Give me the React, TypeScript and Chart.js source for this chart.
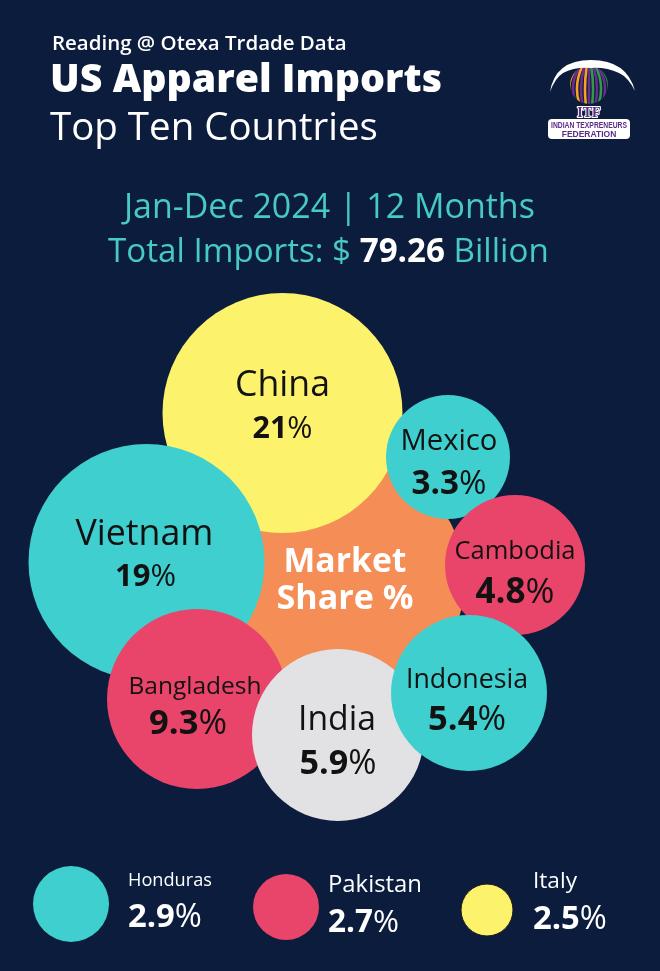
import React, { useEffect, useRef } from "react";
import { Chart, registerables } from "chart.js";

Chart.register(...registerables);

const W = 660;
const H = 971;

// ---------- data ----------
const sourceLabel = "Reading @ Otexa Trdade Data";
const titleLabel = "US Apparel Imports";
const subtitleLabel = "Top Ten Countries";
const periodLabel = "Jan-Dec 2024 | 12 Months";
const totalImportsBn = "79.26";
const hubLines = ["Market", "Share %"];

const countries = ["China", "Vietnam", "Bangladesh", "India", "Indonesia", "Cambodia", "Mexico", "Honduras", "Pakistan", "Italy"];
const shares = [21, 19, 9.3, 5.9, 5.4, 4.8, 3.3, 2.9, 2.7, 2.5];

// ---------- layout (kept apart from the data) ----------
const bubbleX = [282.5, 146.5, 197, 338, 469, 515, 448, 71, 286, 487];
const bubbleY = [413, 562, 699, 735, 693, 565, 457, 904, 907, 910];
const bubbleR = [120, 118, 90, 86, 78, 70, 62, 38, 33, 26];
const hubPos = { x: 345, y: 580, r: 120 };
// cluster draw order (back to front), the three remaining countries form the bottom row
const clusterOrder = [0, 1, 6, 5, 2, 3, 4];
const bottomOrder = [7, 8, 9];

const NAVY = "#0c1c3d";
const TEAL = "#3fcfcf";
const YELLOW = "#fdf26c";
const PINK = "#e9446a";
const GRAY = "#e2e2e4";
const ORANGE = "#f48d56";
const HEAD_TEAL = "#47c9c6";
const bubbleColor = [YELLOW, TEAL, PINK, GRAY, TEAL, PINK, TEAL, TEAL, PINK, YELLOW];

// label offsets relative to bubble centre: [labelDx, labelDy, labelWidth, valueDx, valueDy, valueWidth]
const clusterText: Record<number, number[]> = {
  0: [0, -30, 95, 0, 14, 60],
  1: [-2, -30, 138, -1, 13, 61],
  2: [-2, -14, 133, -9, 23, 78],
  3: [-1, -17, 78, 0, 27, 77],
  4: [-2, -15, 122, -2, 25, 78],
  5: [0, -15, 121, 0, 25, 79],
  6: [1, -17, 97, 1, 25, 75],
};
// bottom row: [textDx, labelDy, labelWidth, valueDy, valueWidth]
const bottomText: Record<number, number[]> = {
  7: [57, -24, 84, 11, 74],
  8: [42, -24, 94, 14, 71],
  9: [46, -30, 44, 7, 74],
};

const FONT = '"Open Sans", "Noto Sans", sans-serif';

type Part = { t: string; w: number; c: string };

function drawParts(
  ctx: CanvasRenderingContext2D,
  parts: Part[],
  x: number,
  yCap: number,
  targetW: number,
  align: "left" | "center"
) {
  let total = 0;
  for (const p of parts) {
    ctx.font = `${p.w} 100px ${FONT}`;
    total += ctx.measureText(p.t).width;
  }
  const size = (100 * targetW) / total;
  const baseline = yCap + size * 0.357;
  let cx = align === "left" ? x : x - targetW / 2;
  ctx.textAlign = "left";
  ctx.textBaseline = "alphabetic";
  for (const p of parts) {
    ctx.font = `${p.w} ${size}px ${FONT}`;
    ctx.fillStyle = p.c;
    ctx.fillText(p.t, cx, baseline);
    cx += ctx.measureText(p.t).width;
  }
}

function fmt(v: number) {
  return String(v);
}

function drawLogo(ctx: CanvasRenderingContext2D) {
  ctx.save();
  const gx = 589, gy = 85, gr = 19;
  ctx.save();
  ctx.beginPath();
  ctx.arc(gx, gy, gr, 0, Math.PI * 2);
  ctx.clip();
  const stripes = ["#f7a21b", "#6c2b8f", "#f7a21b", "#6c2b8f", "#f7a21b", "#6c2b8f", "#2f9d48", "#6c2b8f", "#2f9d48", "#6c2b8f", "#2f9d48"];
  ctx.lineWidth = 2.6;
  stripes.forEach((c, i) => {
    const x = gx - gr + 0.5 + i * 3.7;
    const bend = (i - 5) * 1.5;
    ctx.strokeStyle = c;
    ctx.beginPath();
    ctx.moveTo(x - bend, gy - gr);
    ctx.quadraticCurveTo(x + bend, gy, x - bend * 0.3, gy + gr);
    ctx.stroke();
  });
  ctx.restore();

  // white swoosh
  ctx.fillStyle = "#ffffff";
  ctx.beginPath();
  ctx.moveTo(550, 92);
  ctx.quadraticCurveTo(555, 60, 591, 60);
  ctx.quadraticCurveTo(627, 60, 635, 91);
  ctx.quadraticCurveTo(628, 77, 619, 73);
  ctx.quadraticCurveTo(606, 67, 591, 68);
  ctx.quadraticCurveTo(574, 67, 563, 73);
  ctx.quadraticCurveTo(555, 78, 550, 92);
  ctx.fill();

  // ITF
  ctx.font = 'bold 14px "Liberation Serif", serif';
  ctx.textAlign = "center";
  ctx.textBaseline = "alphabetic";
  ctx.lineWidth = 2;
  ctx.lineJoin = "round";
  ctx.strokeStyle = "#ffffff";
  ctx.strokeText("ITF", gx, 117);
  ctx.fillStyle = "#5a2d88";
  ctx.fillText("ITF", gx, 117);

  // white box
  ctx.fillStyle = "#ffffff";
  ctx.beginPath();
  (ctx as any).roundRect(548, 119, 82, 20, 4);
  ctx.fill();
  ctx.fillStyle = "#5a2d88";
  ctx.font = 'bold 8.5px "Liberation Sans Narrow", "Liberation Sans", sans-serif';
  ctx.fillText("INDIAN TEXPRENEURS", gx, 128, 76);
  ctx.fillText("FEDERATION", gx, 137, 60);
  ctx.restore();
}

const backgroundPlugin = {
  id: "infographicBackground",
  beforeDraw(chart: any) {
    const ctx: CanvasRenderingContext2D = chart.ctx;
    ctx.save();
    ctx.fillStyle = NAVY;
    ctx.fillRect(0, 0, chart.width, chart.height);

    drawParts(ctx, [{ t: sourceLabel, w: 600, c: "#ffffff" }], 52, 43, 295, "left");
    ctx.save();
    ctx.textAlign = "left";
    ctx.font = `800 100px ${FONT}`;
    let tw = ctx.measureText(titleLabel).width;
    let s = (100 * 392) / tw;
    ctx.font = `800 ${s}px ${FONT}`;
    ctx.fillStyle = "#ffffff";
    ctx.fillText(titleLabel, 50, 92);
    ctx.font = `400 100px ${FONT}`;
    tw = ctx.measureText(subtitleLabel).width;
    s = (100 * 328) / tw;
    ctx.font = `400 ${s}px ${FONT}`;
    ctx.fillText(subtitleLabel, 50, 140);
    ctx.restore();

    drawLogo(ctx);

    drawParts(ctx, [{ t: periodLabel, w: 400, c: HEAD_TEAL }], 329.5, 206, 411, "center");
    drawParts(
      ctx,
      [
        { t: "Total Imports: $ ", w: 400, c: HEAD_TEAL },
        { t: totalImportsBn, w: 700, c: "#ffffff" },
        { t: " Billion", w: 400, c: HEAD_TEAL },
      ],
      328.5,
      250,
      441,
      "center"
    );
    ctx.restore();
  },
};

const labelPlugin = {
  id: "bubbleLabels",
  afterDatasetsDraw(chart: any) {
    const ctx: CanvasRenderingContext2D = chart.ctx;
    ctx.save();
    const dark = "#121212";
    const cluster = chart.getDatasetMeta(0).data;
    // hub
    const hub = cluster[0];
    drawParts(ctx, [{ t: hubLines[0], w: 700, c: "#ffffff" }], hub.x, hub.y - 20, 123, "center");
    drawParts(ctx, [{ t: hubLines[1], w: 700, c: "#ffffff" }], hub.x, hub.y + 17, 137, "center");
    clusterOrder.forEach((ci, k) => {
      const el = cluster[k + 1];
      const o = clusterText[ci];
      drawParts(ctx, [{ t: countries[ci], w: 400, c: dark }], el.x + o[0], el.y + o[1], o[2], "center");
      drawParts(
        ctx,
        [
          { t: fmt(shares[ci]), w: 700, c: dark },
          { t: "%", w: 400, c: dark },
        ],
        el.x + o[3],
        el.y + o[4],
        o[5],
        "center"
      );
    });
    const bottom = chart.getDatasetMeta(1).data;
    bottomOrder.forEach((ci, k) => {
      const el = bottom[k];
      const o = bottomText[ci];
      const tx = el.x + o[0];
      drawParts(ctx, [{ t: countries[ci], w: 400, c: "#ffffff" }], tx, el.y + o[1], o[2], "left");
      drawParts(
        ctx,
        [
          { t: fmt(shares[ci]), w: 700, c: "#ffffff" },
          { t: "%", w: 400, c: "#ffffff" },
        ],
        tx,
        el.y + o[3],
        o[4],
        "left"
      );
    });
    ctx.restore();
  },
};

export default function App() {
  const ref = useRef<HTMLCanvasElement | null>(null);
  useEffect(() => {
    document.body.style.margin = "0";
    const canvas = ref.current;
    if (!canvas) return;
    const clusterData = [
      { x: hubPos.x, y: hubPos.y, r: hubPos.r },
      ...clusterOrder.map((i) => ({ x: bubbleX[i], y: bubbleY[i], r: bubbleR[i] })),
    ];
    const clusterColors = [ORANGE, ...clusterOrder.map((i) => bubbleColor[i])];
    const bottomData = bottomOrder.map((i) => ({ x: bubbleX[i], y: bubbleY[i], r: bubbleR[i] }));
    const bottomColors = bottomOrder.map((i) => bubbleColor[i]);
    const chart = new Chart(canvas, {
      type: "bubble",
      data: {
        datasets: [
          {
            label: "Market share",
            data: clusterData,
            backgroundColor: clusterColors,
            borderWidth: 0,
            hoverBorderWidth: 0,
            clip: false as any,
          },
          {
            label: "Other countries",
            data: bottomData,
            backgroundColor: bottomColors,
            borderColor: "#1b1b1b",
            borderWidth: [0, 0, 1] as any,
            clip: false as any,
          },
        ],
      },
      options: {
        responsive: false,
        animation: false,
        events: [],
        layout: { padding: 0, autoPadding: false },
        scales: {
          x: { type: "linear", display: false, min: 0, max: W },
          y: { type: "linear", display: false, min: 0, max: H, reverse: true },
        },
        plugins: {
          legend: { display: false },
          tooltip: { enabled: false },
        },
      },
      plugins: [backgroundPlugin, labelPlugin],
    });
    return () => chart.destroy();
  }, []);
  return (
    <div style={{ position: "absolute", left: 0, top: 0, width: W, height: H }}>
      <canvas ref={ref} width={W} height={H} style={{ display: "block", width: W, height: H }} />
    </div>
  );
}
